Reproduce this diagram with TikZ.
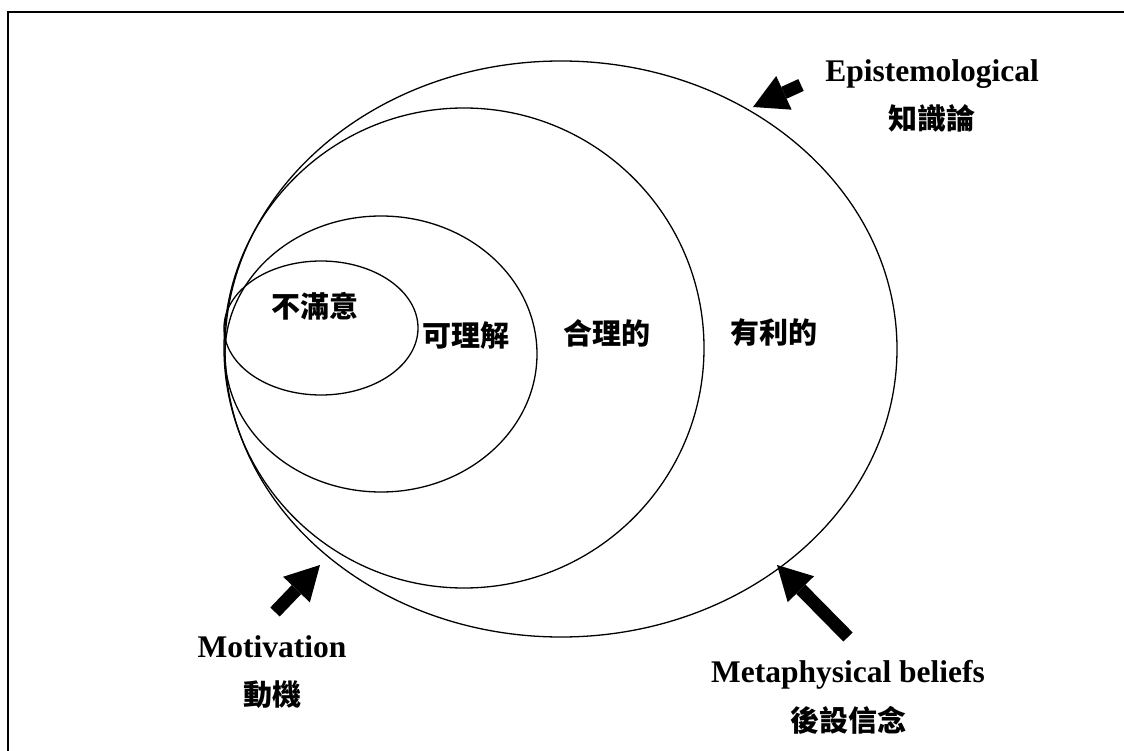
\documentclass[tikz,border=0pt]{standalone}
\usepackage{fontspec}
\setmainfont{Liberation Serif}
\newfontfamily\cjk{Noto Sans CJK TC}
\usetikzlibrary{shapes.geometric,arrows.meta}
\tikzset{
  ell/.style={draw, ellipse, line width=1.3pt, inner sep=0pt},
  entext/.style={font=\bfseries\fontsize{31.5}{36}\selectfont, anchor=base, inner sep=0pt},
  zhtext/.style={font=\cjk\bfseries\fontsize{29}{32}\selectfont, inner sep=0pt},
  blockarrow/.style={line width=13pt, -{Triangle[length=34pt,width=37pt,line width=0pt]}},
  frame/.style={line width=2pt}
}
\begin{document}
\begin{tikzpicture}[x=1pt,y=-1pt]
\useasboundingbox (0,0) rectangle (1124,751);
\draw[frame] (8,751) -- (8,12) -- (1124,12);
% nested ellipses
\node[ell, minimum width=672pt, minimum height=576pt] (e4) at (561,349) {};
\node[ell, minimum width=480pt, minimum height=480pt] (e3) at (464,348) {};
\node[ell, minimum width=312pt, minimum height=276pt] (e2) at (381,354) {};
\node[ell, minimum width=194pt, minimum height=134pt] (e1) at (321,328) {};
% inner labels
\node[zhtext] (l1) at (315,306) {不滿意};
\node[zhtext] (l2) at (466,335) {可理解};
\node[zhtext] (l3) at (607,333) {合理的};
\node[zhtext] (l4) at (774,333) {有利的};
% outer labels
\node[entext] (epi) at (932,82) {Epistemological};
\node[zhtext] (epizh) at (932,118) {知識論};
\node[entext] (mot) at (272,657) {Motivation};
\node[zhtext] (motzh) at (272,695) {動機};
\node[entext] (met) at (848,682) {Metaphysical beliefs};
\node[zhtext] (metzh) at (848,720) {後設信念};
% arrows
\coordinate (a1t) at (801,85);
\coordinate (a1h) at (753,107);
\coordinate (a2t) at (275,612);
\coordinate (a2h) at (320,565);
\coordinate (a3t) at (848,637);
\coordinate (a3h) at (777,565);
\draw[blockarrow] (a1t) -- (a1h);
\draw[blockarrow] (a2t) -- (a2h);
\draw[blockarrow] (a3t) -- (a3h);
\end{tikzpicture}
\end{document}
